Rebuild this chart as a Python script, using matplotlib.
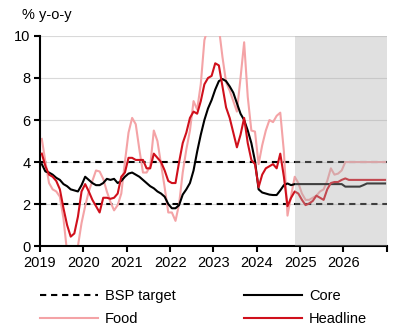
import numpy as np
import matplotlib.pyplot as plt
import matplotlib.transforms as mtransforms

plt.rcParams['font.family'] = ['Liberation Sans', 'DejaVu Sans']

# monthly data, Jan 2019 - Dec 2026 (forecast from Nov 2024)
headline = [4.4, 3.8, 3.4, 3.3, 3.1, 2.7, 1.8, 1.0, 0.45, 0.6, 1.4, 2.6,
            2.95, 2.6, 2.2, 1.9, 1.6, 2.3, 2.3, 2.25, 2.3, 2.5, 3.3, 3.5,
            4.2, 4.2, 4.1, 4.1, 4.1, 3.7, 3.7, 4.4, 4.2, 4.0, 3.6, 3.1,
            3.0, 3.0, 4.0, 4.9, 5.4, 6.1, 6.4, 6.3, 6.9, 7.7, 8.0, 8.1,
            8.7, 8.6, 7.6, 6.6, 6.1, 5.4, 4.7, 5.3, 6.1, 4.9, 4.1, 3.9,
            2.8, 3.4, 3.7, 3.8, 3.9, 3.7, 4.4, 3.3, 1.9, 2.3, 2.6, 2.5,
            2.2, 1.95, 2.03, 2.15, 2.4, 2.3, 2.2, 2.7, 3.0, 3.05, 3.05, 3.15,
            3.22, 3.15, 3.15, 3.15, 3.15, 3.15, 3.15, 3.15, 3.15, 3.15, 3.15, 3.15]

core = [3.9, 3.55, 3.5, 3.4, 3.25, 3.15, 2.95, 2.85, 2.7, 2.65, 2.6, 2.9,
        3.3, 3.15, 3.0, 2.9, 2.9, 3.0, 3.2, 3.15, 3.2, 3.0, 3.1, 3.3,
        3.45, 3.5, 3.4, 3.3, 3.15, 3.0, 2.85, 2.75, 2.6, 2.5, 2.35, 2.0,
        1.8, 1.8, 1.95, 2.45, 2.7, 3.0, 3.6, 4.5, 5.3, 6.0, 6.55, 6.95,
        7.45, 7.85, 7.95, 7.85, 7.6, 7.3, 6.8, 6.3, 6.0, 5.5, 4.9, 4.05,
        2.7, 2.55, 2.5, 2.45, 2.43, 2.43, 2.65, 2.9, 2.98, 2.9, 2.95, 2.95,
        2.95, 2.95, 2.95, 2.95, 2.95, 2.95, 2.95, 2.95, 2.95, 2.95, 2.95, 2.95,
        2.83, 2.83, 2.83, 2.83, 2.83, 2.9, 2.98, 2.98, 2.98, 2.98, 2.98, 2.98]

food = [5.1, 4.0, 3.0, 2.7, 2.6, 2.35, 1.3, -0.3, -1.5, -1.2, 0.0, 1.1,
        1.9, 2.6, 3.1, 3.6, 3.55, 3.2, 2.6, 2.1, 1.7, 1.95, 2.5, 4.0,
        5.4, 6.1, 5.8, 4.6, 3.5, 3.5, 3.8, 5.5, 5.0, 3.9, 2.8, 1.6,
        1.6, 1.2, 2.0, 3.5, 4.6, 5.5, 6.9, 6.5, 7.7, 9.8, 10.4, 10.6,
        11.0, 10.4, 9.0, 7.8, 7.4, 6.9, 6.4, 8.0, 9.7, 7.1, 5.5, 5.45,
        3.9, 4.8, 5.5, 6.0, 5.9, 6.2, 6.35, 4.5, 1.45, 2.4, 3.3, 3.0,
        2.5, 2.2, 2.2, 2.3, 2.4, 2.6, 2.7, 3.1, 3.7, 3.4, 3.45, 3.6,
        4.0, 4.0, 4.0, 4.0, 4.0, 4.0, 4.0, 4.0, 4.0, 4.0, 4.0, 4.0]

bsp_target = [2, 4]
years = list(range(2019, 2027))
forecast_start = 2024 + 10.5 / 12

x = 2019 + (np.arange(len(headline)) + 0.5) / 12

fig = plt.figure(figsize=(3.98, 3.33), dpi=100)
ax = fig.add_axes([0.1005, 0.261, 0.8715, 0.631])

for lvl in bsp_target:
    ax.plot([2019, 2027], [lvl, lvl], color='black', lw=1.5, dashes=(3, 2.3),
            zorder=2, label='BSP target' if lvl == bsp_target[0] else None)
ax.plot(x, food, color='#f4a3a6', lw=1.5, zorder=2.5, label='Food')
ax.plot(x, core, color='black', lw=1.5, zorder=3, label='Core')
ax.plot(x, headline, color='#d0101c', lw=1.5, zorder=3.5, label='Headline')

# forecast shading on top
ax.axvspan(forecast_start, 2027, color='0.68', alpha=0.37, lw=0, zorder=5)

ax.set_xlim(2019, 2027)
ax.set_ylim(0, 10)
ax.set_yticks(range(0, 11, 2))
ax.yaxis.grid(True, color='#d9d9d9', lw=0.8)
ax.set_axisbelow(True)
ax.set_xticks(range(2019, 2028))
ax.set_xticklabels([str(y) for y in years] + [''])
offset = mtransforms.ScaledTranslation(4 / 100, 0, fig.dpi_scale_trans)
for lab in ax.get_xticklabels():
    lab.set_transform(lab.get_transform() + offset)

for s in ['top', 'right']:
    ax.spines[s].set_visible(False)
ax.spines['left'].set_linewidth(1.5)
ax.spines['bottom'].set_linewidth(1.5)
ax.tick_params(axis='both', direction='out', length=4, width=1.5,
               labelsize=10.5, pad=3)

fig.text(0.055, 0.955, '% y-o-y', fontsize=10.5, va='center')

h, l = ax.get_legend_handles_labels()
order = [l.index('BSP target'), l.index('Food'), l.index('Core'), l.index('Headline')]
fig.legend([h[i] for i in order], [l[i] for i in order], ncol=2,
           loc='upper left', bbox_to_anchor=(0.1, 1 - 289 / 333),
           frameon=False, fontsize=10.5, handlelength=4.0, handletextpad=0.45,
           columnspacing=4.7, labelspacing=0.65, borderpad=0, borderaxespad=0)

fig.savefig('out.png', dpi=100)
